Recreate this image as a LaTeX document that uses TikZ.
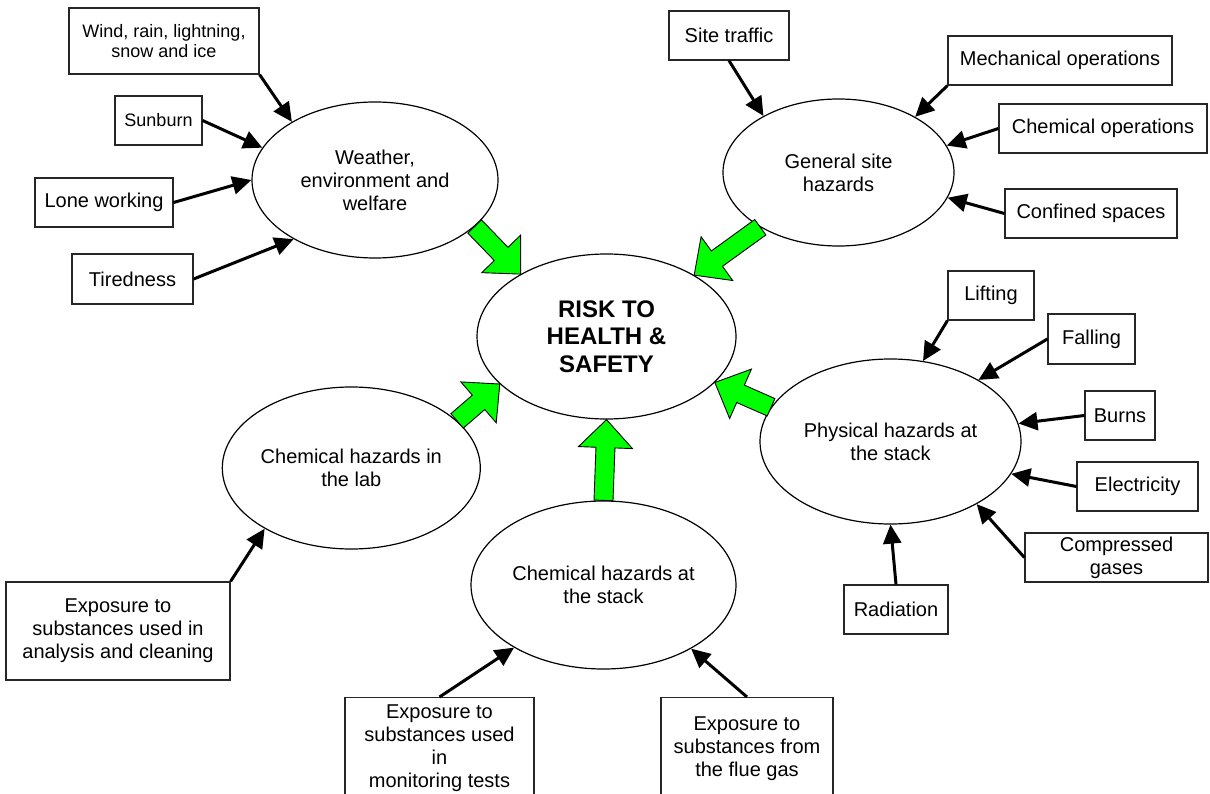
\documentclass[tikz,border=0pt]{standalone}
\usepackage{fontspec}
\setmainfont{Liberation Sans}
\usetikzlibrary{shapes.geometric,arrows.meta,calc}
\definecolor{arrowgreen}{RGB}{0,255,0}
\tikzset{
  hazardell/.style={ellipse, draw=black, line width=1.2pt, fill=white, inner sep=0pt, align=center, font=\fontsize{20}{23}\selectfont},
  mainell/.style={hazardell, font=\bfseries\fontsize{24}{27.5}\selectfont},
  factorbox/.style={rectangle, draw=black!85, line width=1.2pt, fill=white, inner sep=0pt, align=center, font=\fontsize{20}{23}\selectfont},
  smallbox/.style={factorbox, font=\fontsize{18}{20}\selectfont},
  conn/.style={line width=3pt, -{Triangle[length=19pt,width=18pt]}},
  greenstyle/.style={draw=black, line width=0.9pt, fill=arrowgreen, line join=miter},
}
\newcommand{\greenarrow}[2]{%
  \path[greenstyle] let \p1=(#1), \p2=(#2),
    \n1={atan2(\y2-\y1,\x2-\x1)}, \n2={veclen(\x2-\x1,\y2-\y1)} in
    ($(\p1)+({\n1+90}:9.5pt)$) --
    ($(\p1)+({\n1}:{\n2*1pt-28pt})+({\n1+90}:9.5pt)$) --
    ($(\p1)+({\n1}:{\n2*1pt-28pt})+({\n1+90}:27pt)$) --
    (\p2) --
    ($(\p1)+({\n1}:{\n2*1pt-28pt})+({\n1-90}:27pt)$) --
    ($(\p1)+({\n1}:{\n2*1pt-28pt})+({\n1-90}:9.5pt)$) --
    ($(\p1)+({\n1-90}:9.5pt)$) -- cycle;%
}
\begin{document}
\begin{tikzpicture}[x=1pt,y=1pt]
\useasboundingbox (0,0) rectangle (1210,-794);
\fill[white] (0,0) rectangle (1210,-794);

% hazard ellipses
\node[hazardell, minimum width=246pt, minimum height=156pt] (weather) at (375,-180) {Weather,\\environment and\\welfare};
\node[hazardell, minimum width=231pt, minimum height=147pt] (site) at (838.5,-172.5) {General site\\hazards};
\node[mainell, minimum width=259pt, minimum height=165pt] (center) at (606.5,-336.5) {RISK TO\\HEALTH \&\\SAFETY};
\node[hazardell, minimum width=261pt, minimum height=165pt] (phys) at (890.5,-441.5) {Physical hazards at\\the stack};
\node[hazardell, minimum width=258pt, minimum height=162pt] (lab) at (351.3,-468) {Chemical hazards in\\the lab};
\node[hazardell, minimum width=265pt, minimum height=168pt] (stack) at (603.5,-585) {Chemical hazards at\\the stack};

% factor boxes
\node[smallbox, minimum width=190pt, minimum height=66pt] (wind) at (164,-41) {Wind, rain, lightning,\\snow and ice};
\node[smallbox, minimum width=87pt, minimum height=49pt] (sunburn) at (158.5,-120.5) {Sunburn};
\node[factorbox, minimum width=138pt, minimum height=49pt] (lone) at (104,-202.5) {Lone working};
\node[factorbox, minimum width=121pt, minimum height=50pt] (tired) at (132.5,-279) {Tiredness};
\node[factorbox, minimum width=120pt, minimum height=49pt] (traffic) at (729,-35.5) {Site traffic};
\node[factorbox, minimum width=224pt, minimum height=49pt] (mech) at (1060,-60.5) {Mechanical operations};
\node[factorbox, minimum width=208pt, minimum height=49pt] (chemops) at (1103,-128.5) {Chemical operations};
\node[factorbox, minimum width=172pt, minimum height=49pt] (confined) at (1091,-213.5) {Confined spaces};
\node[factorbox, minimum width=86pt, minimum height=49pt] (lifting) at (991,-295.5) {Lifting};
\node[factorbox, minimum width=87pt, minimum height=50pt] (falling) at (1091.5,-339) {Falling};
\node[factorbox, minimum width=70pt, minimum height=49pt] (burns) at (1120,-415.5) {Burns};
\node[factorbox, minimum width=121pt, minimum height=49pt] (electricity) at (1137.5,-486.5) {Electricity};
\node[factorbox, minimum width=183pt, minimum height=49pt] (compressed) at (1116.5,-557.5) {Compressed\\gases};
\node[factorbox, minimum width=104pt, minimum height=49pt] (radiation) at (896,-609.5) {Radiation};
\node[factorbox, minimum width=224pt, minimum height=98pt] (analysis) at (118,-631) {Exposure to\\substances used in\\analysis and cleaning};
\node[factorbox, minimum width=189pt, minimum height=102pt, anchor=north] (monitoring) at (439.5,-697) {Exposure to\\substances used\\in\\monitoring tests};
\node[factorbox, minimum width=172pt, minimum height=102pt, anchor=north] (flue) at (747,-697) {Exposure to\\substances from\\the flue gas};

% black connectors
\draw[conn] (wind.south east) -- (weather.145.1);
\draw[conn] (sunburn.east) -- (weather.164.2);
\draw[conn] (lone.east) -- (weather.180.9);
\draw[conn] (tired.east) -- (weather.216.3);
\draw[conn] (traffic.south) -- (site.143.9);
\draw[conn] (mech.south west) -- (site.36.1);
\draw[conn] (chemops.west) -- (site.14.1);
\draw[conn] (confined.west) -- (site.347.5);
\draw[conn] (lifting.south west) -- (phys.68.3);
\draw[conn] (falling.west) -- (phys.35.2);
\draw[conn] (burns.west) -- (phys.8.7);
\draw[conn] (electricity.west) -- (phys.345.3);
\draw[conn] (compressed.west) -- (phys.324);
\draw[conn] (radiation.north) -- (phys.south);
\draw[conn] (analysis.north east) -- (lab.215.3);
\draw[conn] (monitoring.north) -- (stack.215.1);
\draw[conn] (flue.north) -- (stack.324.6);

% green block arrows
\greenarrow{weather.335}{center.144.6}
\greenarrow{site.215.6}{center.35.85}
\greenarrow{lab.24.6}{center.204}
\greenarrow{stack.north}{center.south}
\greenarrow{phys.164.4}{center.337.1}
\end{tikzpicture}
\end{document}
